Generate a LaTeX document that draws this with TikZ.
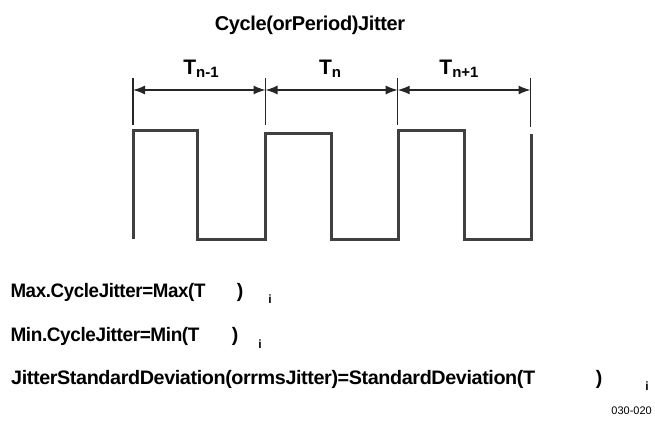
\documentclass[tikz,border=0pt]{standalone}
\usepackage{fontspec}
\setmainfont{Liberation Sans}
\usetikzlibrary{arrows.meta}
\begin{document}
\begin{tikzpicture}[x=1pt,y=-1pt,
  lbl/.style={inner sep=0pt, text=black},
  ttl/.style={lbl, font=\bfseries\fontsize{20}{22}\selectfont\addfontfeatures{LetterSpace=-1.9}},
  frm/.style={lbl, anchor=base west, font=\bfseries\fontsize{19.5}{22}\selectfont\addfontfeatures{LetterSpace=-2}},
  par/.style={lbl, anchor=base, font=\bfseries\fontsize{19.5}{22}\selectfont},
  idx/.style={lbl, anchor=base, font=\bfseries\fontsize{12}{14}\selectfont},
  tl/.style={lbl, anchor=base, font=\bfseries\fontsize{21}{24}\selectfont},
  small/.style={lbl, font=\fontsize{11}{13}\selectfont},
  tick/.style={line width=1.3pt, black!85},
  dim/.style={line width=1.3pt, black!85, {Latex[length=12pt,width=9pt]}-{Latex[length=12pt,width=9pt]}},
  wave/.style={line width=3pt, black!75, line join=miter}]
\useasboundingbox (0,0) rectangle (655,422);
\newcommand{\tsub}[1]{\raisebox{-3pt}{\fontsize{15}{15}\selectfont #1}}
\newcommand{\fitw}[2]{\resizebox{#1}{\height}{#2}}
% title
\node[ttl, anchor=base] (title) at (310,31) {Cycle(orPeriod)Jitter};
% ticks
\coordinate (t1a) at (133,78); \coordinate (t1b) at (133,125);
\coordinate (t2a) at (265.5,78); \coordinate (t2b) at (265.5,125);
\coordinate (t3a) at (397.7,78); \coordinate (t3b) at (397.7,125);
\coordinate (t4a) at (530.5,78); \coordinate (t4b) at (530.5,127);
\draw[tick] (t1a) -- (t1b);
\draw[tick] (t2a) -- (t2b);
\draw[tick] (t3a) -- (t3b);
\draw[tick] (t4a) -- (t4b);
% dimension arrows
\coordinate (d1) at (133,90); \coordinate (d2) at (265.5,90);
\coordinate (d3) at (397.7,90); \coordinate (d4) at (530.5,90);
\draw[dim] (d1) -- (d2);
\draw[dim] (d2) -- (d3);
\draw[dim] (d3) -- (d4);
% labels
\node[tl] (L1) at (201,75) {T\tsub{n-1}};
\node[tl] (L2) at (330,75) {T\tsub{n}};
\node[tl] (L3) at (459,75) {T\tsub{n+1}};
% waveform
\draw[wave] (133,239) -- (133,131) -- (197.5,131) -- (197.5,239) -- (265.5,239)
  -- (265.5,133.5) -- (331,133.5) -- (331,239) -- (398,239) -- (398,131)
  -- (464,131) -- (464,239) -- (531,239) -- (531,134);
% formulas
\node[frm] (f1) at (10.3,297) {\fitw{195pt}{Max.CycleJitter=Max(T}};
\node[par] (f1p) at (240,297) {)};
\node[idx] (f1i) at (270,303.5) {i};
\node[frm] (f2) at (10.3,341.7) {\fitw{189pt}{Min.CycleJitter=Min(T}};
\node[par] (f2p) at (235,341.7) {)};
\node[idx] (f2i) at (260,348.2) {i};
\node[frm] (f3) at (11,384) {\fitw{524pt}{JitterStandardDeviation(orrmsJitter)=StandardDeviation(T}};
\node[par] (f3p) at (599,384) {)};
\node[idx] (f3i) at (647,390.5) {i};
\node[small, anchor=base east] (code) at (652,414) {030-020};
\end{tikzpicture}
\end{document}
